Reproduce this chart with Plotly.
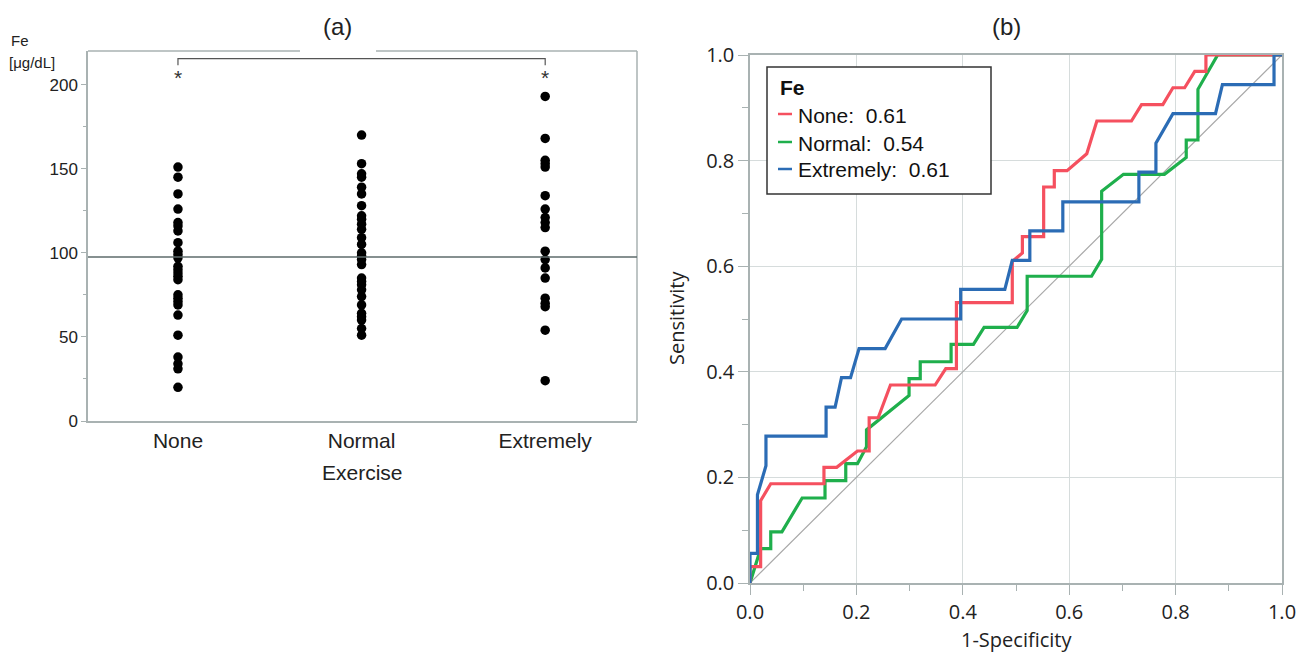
import plotly.graph_objects as go

W, H = 1309, 654

# ---------------- data: panel (a) ----------------
groups = ["None", "Normal", "Extremely"]
fe_none = [151, 145, 135, 126, 118, 116, 113, 106, 101, 99, 97, 92, 90, 88, 86, 84,
           75, 73, 71, 69, 63, 51, 38, 34, 31, 20]
fe_normal = [170, 153, 147, 145, 139, 135, 128, 122, 120, 117, 114, 109, 105, 100, 98,
             96, 93, 85, 83, 81, 78, 74, 69, 64, 62, 60, 55, 51]
fe_extremely = [193, 168, 155, 153, 151, 134, 126, 121, 118, 115, 101, 96, 91, 85,
                73, 70, 68, 54, 24]
fe_mean = 97.5
y_ticks_a = [0, 50, 100, 150, 200]

# ---------------- data: panel (b) ROC ----------------
roc_none_x = [0, 0, 0.02, 0.02, 0.039, 0.139, 0.139, 0.163, 0.202, 0.224, 0.224, 0.241,
              0.264, 0.348, 0.368, 0.388, 0.388, 0.493, 0.493, 0.512, 0.512, 0.552,
              0.552, 0.572, 0.572, 0.596, 0.633, 0.652, 0.717, 0.736, 0.776, 0.795,
              0.817, 0.836, 0.857, 0.857, 1.0]
roc_none_y = [0, 0.031, 0.031, 0.156, 0.188, 0.188, 0.219, 0.219, 0.25, 0.25, 0.313,
              0.313, 0.375, 0.375, 0.406, 0.406, 0.531, 0.531, 0.609, 0.625, 0.656,
              0.656, 0.75, 0.75, 0.781, 0.781, 0.813, 0.875, 0.875, 0.906, 0.906,
              0.938, 0.938, 0.969, 0.969, 1.0, 1.0]

roc_normal_x = [0, 0.02, 0.039, 0.039, 0.06, 0.098, 0.141, 0.141, 0.18, 0.18, 0.202,
                0.219, 0.219, 0.299, 0.299, 0.32, 0.32, 0.378, 0.378, 0.42, 0.44, 0.502,
                0.521, 0.521, 0.642, 0.661, 0.661, 0.702, 0.779, 0.82, 0.82, 0.842,
                0.842, 0.879, 1.0]
roc_normal_y = [0, 0.065, 0.065, 0.097, 0.097, 0.161, 0.161, 0.194, 0.194, 0.226, 0.226,
                0.258, 0.29, 0.355, 0.387, 0.387, 0.419, 0.419, 0.452, 0.452, 0.484,
                0.484, 0.516, 0.581, 0.581, 0.613, 0.742, 0.774, 0.774, 0.806, 0.839,
                0.839, 0.935, 1.0, 1.0]

roc_ext_x = [0, 0, 0.014, 0.014, 0.03, 0.03, 0.143, 0.143, 0.16, 0.172, 0.189, 0.205,
             0.254, 0.285, 0.396, 0.396, 0.479, 0.493, 0.526, 0.526, 0.588, 0.588,
             0.731, 0.731, 0.763, 0.763, 0.795, 0.875, 0.888, 0.985, 0.985, 1.0]
roc_ext_y = [0, 0.056, 0.056, 0.167, 0.222, 0.278, 0.278, 0.333, 0.333, 0.389, 0.389,
             0.444, 0.444, 0.5, 0.5, 0.556, 0.556, 0.611, 0.611, 0.667, 0.667, 0.722,
             0.722, 0.778, 0.778, 0.833, 0.889, 0.889, 0.944, 0.944, 1.0, 1.0]

legend_title = "Fe"
legend_labels = ["None:\u00a0\u00a00.61", "Normal:\u00a0\u00a00.54", "Extremely:\u00a0\u00a00.61"]
roc_ticks = [0.0, 0.2, 0.4, 0.6, 0.8, 1.0]

RED, GREEN, BLUE = "#F5505F", "#1FAF4C", "#2B6CB5"
FRAME = "#A9B2B2"
GRID = "#D6DCDC"
TXT = "#222222"


def PX(px):
    return px / W


def PY(py):
    return 1 - py / H


fig = go.Figure()

# panel (a) dots
for i, vals in enumerate([fe_none, fe_normal, fe_extremely]):
    fig.add_trace(go.Scatter(
        x=[i] * len(vals), y=vals, mode="markers",
        marker=dict(color="black", size=9.5, line=dict(width=0)),
        xaxis="x", yaxis="y", showlegend=False, hoverinfo="y"))

# panel (b) diagonal + curves
fig.add_trace(go.Scatter(x=[0, 1], y=[0, 1], mode="lines",
                         line=dict(color="#A8A8A8", width=1.2),
                         xaxis="x2", yaxis="y2", showlegend=False, hoverinfo="skip"))
for xs, ys, col, name in [(roc_normal_x, roc_normal_y, GREEN, "Normal"),
                          (roc_none_x, roc_none_y, RED, "None"),
                          (roc_ext_x, roc_ext_y, BLUE, "Extremely")]:
    fig.add_trace(go.Scatter(x=xs, y=ys, mode="lines", name=name,
                             line=dict(color=col, width=3.2),
                             xaxis="x2", yaxis="y2", showlegend=False))

font_a = "Liberation Sans, Arial, sans-serif"
font_b = "Open Sans, Noto Sans, sans-serif"

fig.update_layout(
    width=W, height=H, autosize=False,
    margin=dict(l=0, r=0, t=0, b=0, pad=0, autoexpand=False),
    paper_bgcolor="white", plot_bgcolor="white",
    showlegend=False,
    xaxis=dict(domain=[PX(88), PX(637)], range=[-0.49, 2.5], automargin=False,
               tickvals=[0, 1, 2], ticktext=groups, ticks="",
               showgrid=False, zeroline=False,
               showline=True, linecolor=FRAME, linewidth=1.5,
               tickfont=dict(family=font_a, size=21, color=TXT),
               anchor="y"),
    yaxis=dict(domain=[PY(421), PY(51)], range=[0, 220], automargin=False,
               tickvals=y_ticks_a, ticks="outside", ticklen=5, tickcolor=FRAME,
               minor=dict(dtick=25, ticks="outside", ticklen=3, tickcolor=FRAME,
                          showgrid=False),
               showgrid=False, zeroline=False,
               showline=True, linecolor=FRAME, linewidth=1.5,
               tickfont=dict(family=font_a, size=17, color=TXT),
               anchor="x"),
    xaxis2=dict(domain=[PX(750), PX(1282)], range=[0, 1], automargin=False,
                tickvals=roc_ticks, ticktext=["0.0", "0.2", "0.4", "0.6", "0.8", "1.0"],
                ticks="outside", ticklen=10, tickcolor=FRAME,
                minor=dict(dtick=0.1, ticks="outside", ticklen=6, tickcolor=FRAME,
                           showgrid=False),
                showgrid=True, gridcolor=GRID, gridwidth=1.2, zeroline=False,
                showline=True, mirror=True, linecolor=FRAME, linewidth=1.5,
                tickfont=dict(family=font_b, size=20, color=TXT),
                anchor="y2"),
    yaxis2=dict(domain=[PY(583), PY(55)], range=[0, 1], automargin=False,
                tickvals=roc_ticks, ticktext=["0.0", "0.2", "0.4", "0.6", "0.8", "1.0"],
                ticks="outside", ticklen=10, tickcolor=FRAME,
                minor=dict(dtick=0.1, ticks="outside", ticklen=6, tickcolor=FRAME,
                           showgrid=False),
                showgrid=True, gridcolor=GRID, gridwidth=1.2, zeroline=False,
                showline=True, mirror=True, linecolor=FRAME, linewidth=1.5,
                tickfont=dict(family=font_b, size=20, color=TXT),
                anchor="x2"),
)

shapes = []
# panel (a) frame: right side and top with gap
shapes.append(dict(type="line", xref="x domain", yref="y domain", x0=1, x1=1, y0=0, y1=1,
                   line=dict(color=FRAME, width=1.5)))
gap_l = (300 - 88) / (637 - 88)
gap_r = (376 - 88) / (637 - 88)
shapes.append(dict(type="line", xref="x domain", yref="y domain", x0=0, x1=gap_l, y0=1, y1=1,
                   line=dict(color=FRAME, width=1.5)))
shapes.append(dict(type="line", xref="x domain", yref="y domain", x0=gap_r, x1=1, y0=1, y1=1,
                   line=dict(color=FRAME, width=1.5)))
# mean line
shapes.append(dict(type="line", xref="x domain", yref="y", x0=0, x1=1, y0=fe_mean, y1=fe_mean,
                   line=dict(color="#5E6B6B", width=1.5)))
# significance bracket
shapes.append(dict(type="path", xref="x", yref="y",
                   path="M 0,211.5 L 0,215.5 L 2,215.5 L 2,211.5",
                   line=dict(color="#555555", width=1.2)))
# ROC legend box
shapes.append(dict(type="rect", xref="paper", yref="paper",
                   x0=PX(767), x1=PX(991), y0=PY(194), y1=PY(67),
                   line=dict(color="#333333", width=1.5), fillcolor="white", layer="above"))
row_y = [114, 142, 169]
for col, py in zip([RED, GREEN, BLUE], row_y):
    shapes.append(dict(type="line", xref="paper", yref="paper",
                       x0=PX(778), x1=PX(792), y0=PY(py), y1=PY(py),
                       line=dict(color=col, width=2.5), layer="above"))
fig.update_layout(shapes=shapes)


def note(text, px, py, size, family=font_a, xanchor="center", color=TXT, angle=0):
    return dict(text=text, x=PX(px), y=PY(py), xref="paper", yref="paper",
                xanchor=xanchor, yanchor="middle", textangle=angle, showarrow=False,
                font=dict(family=family, size=size, color=color))


ann = []
ann.append(note("(a)", 337, 27, 24))
ann.append(note("(b)", 1006, 27, 24))
ann.append(note("Fe", 9, 41, 15, xanchor="left"))
ann.append(note("[μg/dL]", 7, 62, 15, xanchor="left"))
ann.append(note("Exercise", 362, 472, 21))
ann.append(note("1-Specificity", 1016, 639, 20, family=font_b))
ann.append(note("Sensitivity", 676, 318, 20, family=font_b, angle=-90))
for gx in [0, 2]:
    ann.append(dict(text="*", x=gx, y=204, xref="x", yref="y", showarrow=False,
                    xanchor="center", yanchor="middle",
                    font=dict(family=font_a, size=21, color="#333333")))
ann.append(note("<b>" + legend_title + "</b>", 778, 88, 21, xanchor="left", color="#111111"))
for lab, py in zip(legend_labels, row_y):
    ann.append(note(lab, 796, py + 1, 21, xanchor="left", color="#111111"))
fig.update_layout(annotations=ann)

fig.write_html("out.html", config={"displayModeBar": False},
               post_script="document.body.style.margin='0px';document.body.style.overflow='hidden';")
